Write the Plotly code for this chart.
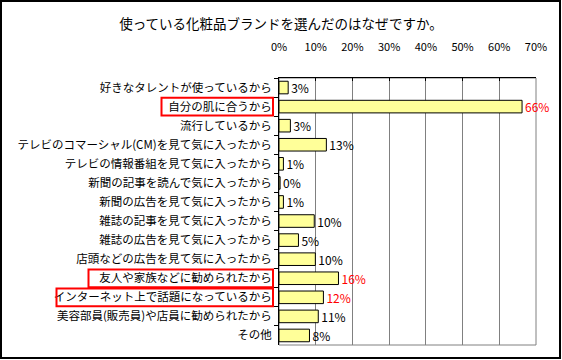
import plotly.graph_objects as go

categories = [
    "好きなタレントが使っているから",
    "自分の肌に合うから",
    "流行しているから",
    "テレビのコマーシャル(CM)を見て気に入ったから",
    "テレビの情報番組を見て気に入ったから",
    "新聞の記事を読んで気に入ったから",
    "新聞の広告を見て気に入ったから",
    "雑誌の記事を見て気に入ったから",
    "雑誌の広告を見て気に入ったから",
    "店頭などの広告を見て気に入ったから",
    "友人や家族などに勧められたから",
    "インターネット上で話題になっているから",
    "美容部員(販売員)や店員に勧められたから",
    "その他",
]
values = [2.5, 66.2, 3.1, 12.9, 1.2, 0.3, 1.2, 9.6, 5.3, 9.9, 16.2, 12.1, 10.7, 8.3]
value_labels = ["3%", "66%", "3%", "13%", "1%", "0%", "1%", "10%", "5%", "10%", "16%", "12%", "11%", "8%"]
highlighted = [1, 10, 11]
x_ticks = [0, 10, 20, 30, 40, 50, 60, 70]
x_tick_labels = ["0%", "10%", "20%", "30%", "40%", "50%", "60%", "70%"]

FONT = "Noto Sans CJK JP"
W, H = 562, 360
L, R, T, B = 279, 26, 78, 15
PW, PH = W - L - R, H - T - B

def px_to_paper_x(p):
    return (p - L) / PW

def px_to_paper_y(p):
    return (H - B - p) / PH

label_colors = ["#FF0000" if i in highlighted else "#000000" for i in range(len(categories))]

fig = go.Figure()
fig.add_trace(go.Bar(
    y=categories, x=values, orientation="h",
    marker=dict(color="#FFFF99", line=dict(color="#000000", width=1)),
    text=value_labels, textposition="outside", constraintext="none",
    textfont=dict(family=FONT, size=12, color=label_colors),
    cliponaxis=False, hoverinfo="skip",
))

shapes = []
# gray plot border (right & bottom)
shapes.append(dict(type="rect", xref="paper", yref="paper", x0=0, x1=1, y0=0, y1=1,
                   line=dict(color="#808080", width=1), layer="below"))
# outer frame
shapes.append(dict(type="rect", xref="paper", yref="paper",
                   x0=px_to_paper_x(1), x1=px_to_paper_x(560),
                   y0=px_to_paper_y(358), y1=px_to_paper_y(1),
                   line=dict(color="#000000", width=2)))
# red highlight boxes
box_left_px = {1: 161.5, 10: 88.5, 11: 56.5}
for i in highlighted:
    shapes.append(dict(type="rect", xref="paper", yref="y",
                       x0=px_to_paper_x(box_left_px[i]), x1=px_to_paper_x(273),
                       y0=i - 0.46, y1=i + 0.47,
                       line=dict(color="#FF0000", width=2)))

fig.update_layout(
    width=W, height=H,
    margin=dict(l=L, r=R, t=T, b=B, autoexpand=False),
    paper_bgcolor="white", plot_bgcolor="white",
    showlegend=False,
    bargap=0.34,
    font=dict(family=FONT, size=12, color="#000000"),
    title=dict(text="使っている化粧品ブランドを選んだのはなぜですか。",
               x=0.5, xref="container", xanchor="center",
               y=1 - 24 / H, yref="container", yanchor="middle",
               font=dict(family=FONT, size=13.5, color="#000000")),
    shapes=shapes,
)
fig.update_xaxes(
    side="top", range=[0, 70], tickvals=x_ticks, ticktext=x_tick_labels,
    showgrid=True, gridcolor="#808080", gridwidth=1,
    showline=True, linecolor="#000000", linewidth=1,
    ticks="inside", ticklen=3, tickcolor="#000000",
    ticklabelstandoff=22, zeroline=False,
    tickfont=dict(family=FONT, size=11, color="#000000"),
    fixedrange=True,
)
fig.update_yaxes(
    autorange="reversed", type="category",
    showline=True, linecolor="#000000", linewidth=1,
    ticks="outside", ticklen=4, tickcolor="#000000", tickson="boundaries",
    showgrid=False, ticklabelstandoff=4,
    tickfont=dict(family=FONT, size=11.5, color="#000000"),
    fixedrange=True,
)

fig.write_html("out.html", config={"displayModeBar": False},
               post_script="document.body.style.margin='0';")
